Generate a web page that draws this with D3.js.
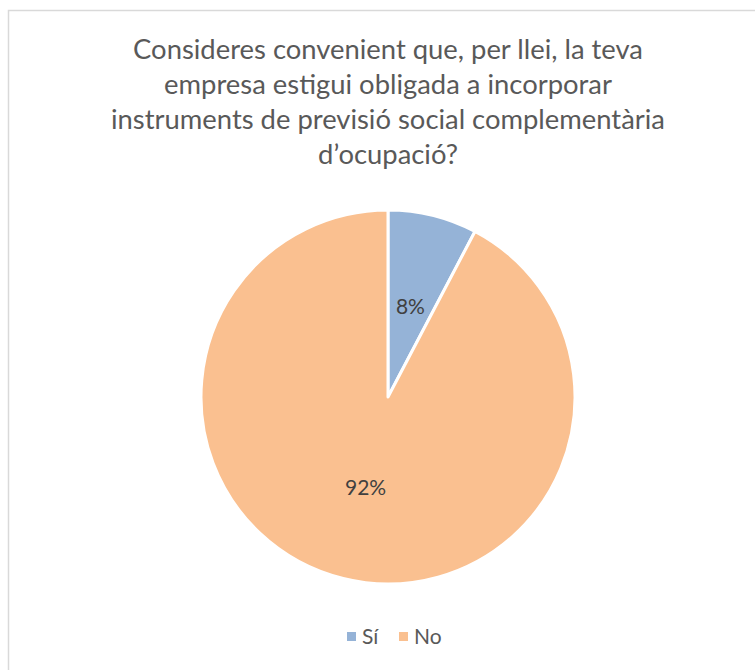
<!DOCTYPE html>
<html><head><meta charset="utf-8">
<script src="https://cdn.jsdelivr.net/npm/d3@7"></script>
<style>body{margin:0;background:#fff}svg{display:block}</style>
</head><body>
<svg id="c" width="755" height="670"></svg>
<script>
const categories = ["Sí", "No"];
const values = [7.7, 92.3];
const colors = ["#95B3D7", "#FAC090"];
const titleLines = ["Consideres convenient que, per llei, la teva", "empresa estigui obligada a incorporar", "instruments de previsió social complementària", "d’ocupació?"];

const svg = d3.select("#c");
const font = "Lato, 'Open Sans', sans-serif";

svg.append("rect").attr("x", 8.5).attr("y", 10.5).attr("width", 760).attr("height", 680)
  .attr("fill", "#fff").attr("stroke", "#d9d9d9").attr("stroke-width", 1.5);

const cx = 388, cy = 397, r = 187;
const title = svg.append("g").attr("font-family", font).attr("fill", "#595959").attr("text-anchor", "middle");
const t0 = title.append("text").attr("font-size", 24).text(titleLines[0]);
const w = t0.node().getComputedTextLength();
const fs = 24 * 510 / w;
t0.remove();
titleLines.forEach((l, i) => {
  title.append("text").attr("x", 388).attr("y", 59 + i * 35).attr("font-size", fs).text(l);
});

const data = categories.map((c, i) => ({cat: c, v: values[i], color: colors[i]}));
const pie = d3.pie().value(d => d.v).sort(null);
const arc = d3.arc().innerRadius(0).outerRadius(r);
const g = svg.append("g").attr("transform", `translate(${cx},${cy})`);
const arcs = pie(data);
g.selectAll("path").data(arcs).join("path")
  .attr("d", arc).attr("fill", d => d.data.color)
  .attr("stroke", "#fff").attr("stroke-width", 3).attr("stroke-linejoin", "round");

const labelArc = d3.arc().innerRadius(r * 0.5).outerRadius(r * 0.5);
g.selectAll("text").data(arcs).join("text")
  .attr("transform", d => { const [x, y] = labelArc.centroid(d); return `translate(${x},${y})`; })
  .attr("dy", "0.35em").attr("text-anchor", "middle")
  .attr("font-family", font).attr("font-size", 21).attr("fill", "#404040")
  .text(d => Math.round(d.data.v) + "%");

const legend = svg.append("g").attr("font-family", font).attr("font-size", 21).attr("fill", "#595959");
const lx = [347, 399];
data.forEach((d, i) => {
  legend.append("rect").attr("x", lx[i]).attr("y", 632).attr("width", 9).attr("height", 9).attr("fill", d.color);
  legend.append("text").attr("x", lx[i] + 15).attr("y", 644).text(d.cat);
});
</script>
</body></html>
